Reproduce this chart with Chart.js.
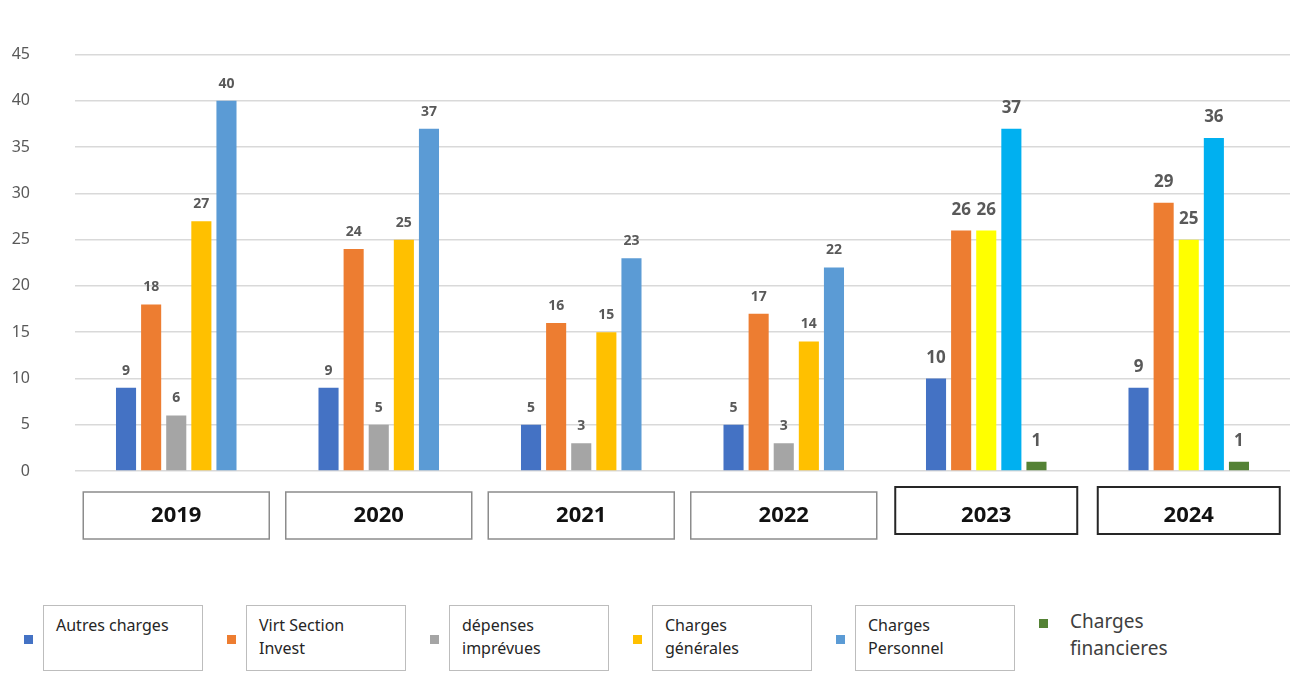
<!DOCTYPE html>
<html>
<head>
<meta charset="utf-8">
<script src="https://cdn.jsdelivr.net/npm/chart.js@4/dist/chart.umd.min.js"></script>
<style>
    body { margin: 0; background: #fff; font-family: "Noto Sans", sans-serif; }
    #wrap { position: relative; width: 1295px; height: 685px; overflow: hidden; }
    #chartBox { position: absolute; left: 0; top: 0; width: 1295px; height: 560px; }
    #legend { position: absolute; left: 24px; top: 605px; display: flex; align-items: flex-start; }
    .item { display: flex; align-items: flex-start; margin-right: 24px; }
    .mark { width: 9px; height: 9px; margin-top: 30px; margin-right: 10px; }
    .label { border: 1.5px solid #bdbdbd; padding: 8px 12px; font-size: 16px; line-height: 23px;
             color: #262626; width: 160px; height: 66px; box-sizing: border-box; }
    .label.plain { border: none; font-size: 19px; line-height: 27px; color: #404040; padding-top: 3px; }
</style>
</head>
<body>
<div id="wrap">
    <div id="chartBox"><canvas id="depensesChart"></canvas></div>
    <div id="legend"></div>
</div>
<script>
const years = ["2019", "2020", "2021", "2022", "2023", "2024"];

const autresCharges = [9, 9, 5, 5, 10, 9];
const virtSection = [18, 24, 16, 17, 26, 29];
const depensesImprevues = [6, 5, 3, 3, null, null];
const chargesGenerales = [27, 25, 15, 14, 26, 25];
const chargesPersonnel = [40, 37, 23, 22, 37, 36];
const chargesFinancieres = [null, null, null, null, 1, 1];

const seriesNames = [
    ["Autres charges"],
    ["Virt Section", "Invest"],
    ["dépenses", "imprévues"],
    ["Charges", "générales"],
    ["Charges", "Personnel"],
    ["Charges", "financieres"],
];

const yTicks = [0, 5, 10, 15, 20, 25, 30, 35, 40, 45];

// the two newest years were pasted from another sheet with brighter colours
const palettes = [
    ["#4472C4", "#4472C4", "#4472C4", "#4472C4", "#4472C4", "#4472C4"],
    ["#ED7D31", "#ED7D31", "#ED7D31", "#ED7D31", "#ED7D31", "#ED7D31"],
    ["#A5A5A5", "#A5A5A5", "#A5A5A5", "#A5A5A5", "#A5A5A5", "#A5A5A5"],
    ["#FFC000", "#FFC000", "#FFC000", "#FFC000", "#FFFF00", "#FFFF00"],
    ["#5B9BD5", "#5B9BD5", "#5B9BD5", "#5B9BD5", "#00B0F0", "#00B0F0"],
    ["#548235", "#548235", "#548235", "#548235", "#548235", "#548235"],
];

const seriesData = [
    autresCharges,
    virtSection,
    depensesImprevues,
    chargesGenerales,
    chargesPersonnel,
    chargesFinancieres,
];

const valueLabels = {
    id: "valueLabels",
    afterDatasetsDraw(chart) {
        const ctx = chart.ctx;
        ctx.save();
        ctx.textAlign = "center";
        ctx.textBaseline = "bottom";
        chart.data.datasets.forEach((ds, di) => {
            const meta = chart.getDatasetMeta(di);
            meta.data.forEach((bar, i) => {
                const v = ds.data[i];
                if (v === null || v === undefined) return;
                const big = i >= 4;
                ctx.font = (big ? "bold 17px" : "bold 14px") + ' "Noto Sans", sans-serif';
                ctx.fillStyle = "#595959";
                ctx.fillText(String(v), bar.x, bar.y - (big ? 12 : 10));
            });
        });
        ctx.restore();
    },
};

const yearBoxes = {
    id: "yearBoxes",
    afterDraw(chart) {
        const ctx = chart.ctx;
        const xs = chart.scales.x;
        ctx.save();
        years.forEach((y, i) => {
            const cx = xs.getPixelForTick(i);
            const w = i >= 4 ? 182 : 186;
            const top = i >= 4 ? 487 : 492;
            ctx.strokeStyle = i >= 4 ? "#262626" : "#8c8c8c";
            ctx.lineWidth = i >= 4 ? 2 : 1.5;
            ctx.strokeRect(cx - w / 2, top, w, 47);
        });
        ctx.restore();
    },
};

new Chart(document.getElementById("depensesChart").getContext("2d"), {
    type: "bar",
    data: {
        labels: years,
        datasets: seriesData.map((values, i) => ({
            label: seriesNames[i].join(" "),
            data: values,
            backgroundColor: palettes[i],
            borderWidth: 0,
            skipNull: true,
            categoryPercentage: 0.62,
            barPercentage: 0.8,
        })),
    },
    options: {
        responsive: true,
        maintainAspectRatio: false,
        animation: false,
        layout: {
            padding: { top: 52, right: 5, left: 0, bottom: 0 },
        },
        plugins: {
            legend: { display: false },
            tooltip: { enabled: false },
        },
        scales: {
            y: {
                min: 0,
                max: 45,
                afterFit(scale) { scale.width = 75; },
                afterBuildTicks(scale) {
                    scale.ticks = yTicks.map((v) => ({ value: v }));
                },
                border: { display: false },
                grid: {
                    color: "#d9d9d9",
                    lineWidth: 1.5,
                    drawTicks: false,
                },
                ticks: {
                    padding: 45,
                    color: "#595959",
                    font: { size: 16, family: "Noto Sans" },
                },
            },
            x: {
                afterFit(scale) { scale.height = 89; },
                border: { display: false },
                grid: { display: false, drawTicks: false },
                ticks: {
                    padding: 32,
                    color: "#111",
                    font: { size: 22, weight: "bold", family: "Noto Sans" },
                },
            },
        },
    },
    plugins: [valueLabels, yearBoxes],
});

// legend under the chart, one box per series like the original sheet
const legendEl = document.getElementById("legend");
seriesNames.forEach((lines, i) => {
    const item = document.createElement("div");
    item.className = "item";
    const mark = document.createElement("div");
    mark.className = "mark";
    mark.style.background = palettes[i][0];
    if (i === 5) mark.style.marginTop = "14px";
    const label = document.createElement("div");
    label.className = i === 5 ? "label plain" : "label";
    label.innerHTML = lines.join("<br>");
    item.appendChild(mark);
    item.appendChild(label);
    legendEl.appendChild(item);
});
</script>
</body>
</html>
